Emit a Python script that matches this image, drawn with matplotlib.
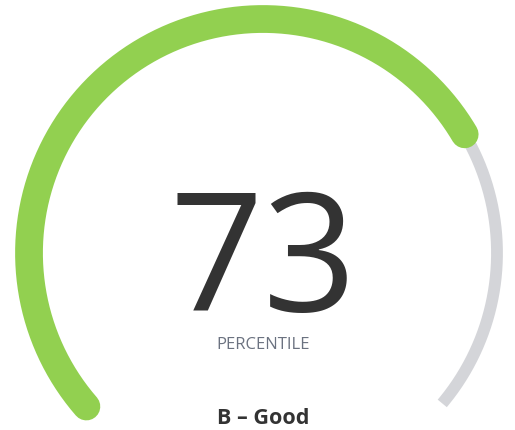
import numpy as np
import matplotlib
matplotlib.use('Agg')
import matplotlib.pyplot as plt

# Datos del indicador
value = 73
max_value = 100
label = 'PERCENTILE'
grade = 'B – Good'

# Geometría del arco (en píxeles)
W, H = 515, 430
cx, cy, r = 263, 253, 234
start_deg, end_deg = 221, -40

plt.rcParams['font.family'] = ['Open Sans', 'DejaVu Sans']

fig = plt.figure(figsize=(W / 100, H / 100), dpi=100)
ax = fig.add_axes([0, 0, 1, 1])
ax.set_xlim(0, W)
ax.set_ylim(H, 0)
ax.set_aspect('equal')
ax.axis('off')


def arc(a0, a1):
    t = np.radians(np.linspace(a0, a1, 300))
    return cx + r * np.cos(t), cy - r * np.sin(t)


# Pista gris
x, y = arc(start_deg, end_deg)
ax.plot(x, y, color='#d4d5d9', lw=8.5, solid_capstyle='butt')

# Arco verde del valor
val_deg = start_deg - (start_deg - end_deg) * value / max_value
x, y = arc(start_deg, val_deg)
ax.plot(x, y, color='#92d050', lw=20, solid_capstyle='round')

# Textos
ax.text(cx, 268, str(value), ha='center', va='center', fontsize=118,
        color='#333333')
ax.text(cx, 345, label, ha='center', va='center', fontsize=12,
        color='#6b7280')
ax.text(cx, 424, grade, ha='center', va='baseline', fontsize=15.5,
        color='#333333', fontweight='bold')

fig.savefig('out.png', dpi=100)
